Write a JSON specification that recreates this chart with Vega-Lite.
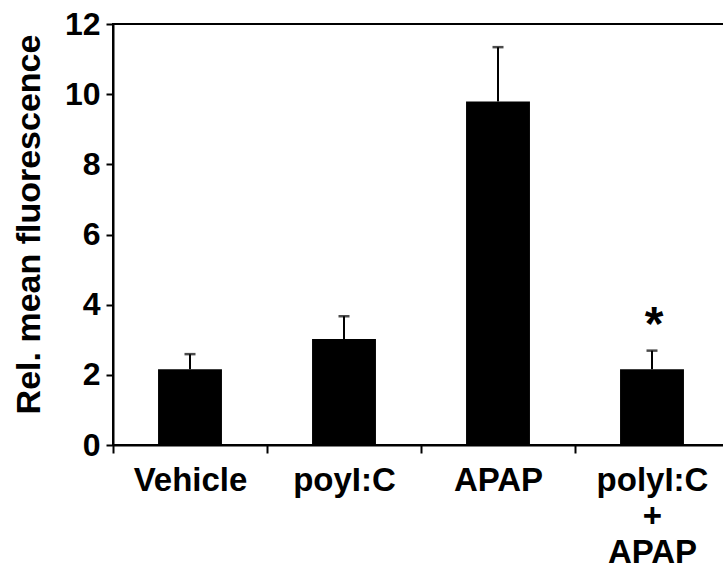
{
  "$schema": "https://vega.github.io/schema/vega-lite/v6.json",
  "width": 616,
  "height": 421,
  "autosize": {"type": "none"},
  "padding": {"left": 113, "top": 24, "right": 0, "bottom": 136},
  "background": "white",
  "config": {"font": "Liberation Sans", "view": {"stroke": "black", "strokeWidth": 2}},
  "data": {"values": [
    {"group": "Vehicle", "mean": 2.16, "upper": 2.59, "sig": ""},
    {"group": "poyI:C", "mean": 3.02, "upper": 3.67, "sig": ""},
    {"group": "APAP", "mean": 9.79, "upper": 11.34, "sig": ""},
    {"group": "polyI:C + APAP", "mean": 2.16, "upper": 2.69, "sig": "*"}
  ]},
  "encoding": {
    "x": {
      "field": "group", "type": "nominal",
      "sort": ["Vehicle", "poyI:C", "APAP", "polyI:C + APAP"],
      "scale": {"paddingInner": 0, "paddingOuter": 0},
      "title": null,
      "axis": {
        "tickBand": "extent", "tickSize": 8, "tickWidth": 2, "tickColor": "black",
        "domainColor": "black", "domainWidth": 2,
        "labelFontSize": 33, "labelFontWeight": "bold", "labelColor": "black",
        "labelAngle": 0, "labelPadding": 11, "labelLineHeight": 36,
        "labelExpr": "split(datum.label, ' ')", "labelLimit": 0,
        "labelOverlap": false, "labelFlush": false
      }
    }
  },
  "layer": [
    {
      "mark": {"type": "bar", "color": "black", "width": {"band": 0.415}},
      "encoding": {
        "y": {
          "field": "mean", "type": "quantitative",
          "title": "Rel. mean fluorescence",
          "scale": {"domain": [0, 12], "nice": false},
          "axis": {
            "values": [0, 2, 4, 6, 8, 10, 12], "grid": false,
            "tickSize": 7, "tickWidth": 2, "tickColor": "black",
            "domainColor": "black", "domainWidth": 2,
            "labelFontSize": 32, "labelFontWeight": "bold", "labelColor": "black",
            "labelPadding": 6,
            "titleFontSize": 34, "titleFontWeight": "bold", "titleColor": "black",
            "titleX": -74, "titleY": 200, "titleBaseline": "alphabetic", "titleAngle": -90
          }
        }
      }
    },
    {
      "mark": {"type": "rule", "color": "black", "strokeWidth": 2},
      "encoding": {
        "y": {"field": "mean", "type": "quantitative", "title": "Rel. mean fluorescence"},
        "y2": {"field": "upper"}
      }
    },
    {
      "mark": {"type": "tick", "color": "black", "thickness": 2.5, "size": 11, "orient": "horizontal"},
      "encoding": {
        "y": {"field": "upper", "type": "quantitative", "title": "Rel. mean fluorescence"}
      }
    },
    {
      "transform": [{"filter": "datum.sig != ''"}],
      "mark": {"type": "text", "fontSize": 48, "fontWeight": "bold", "baseline": "alphabetic", "dy": -11, "dx": 2, "color": "black"},
      "encoding": {
        "y": {"field": "upper", "type": "quantitative", "title": "Rel. mean fluorescence"},
        "text": {"field": "sig"}
      }
    }
  ]
}
